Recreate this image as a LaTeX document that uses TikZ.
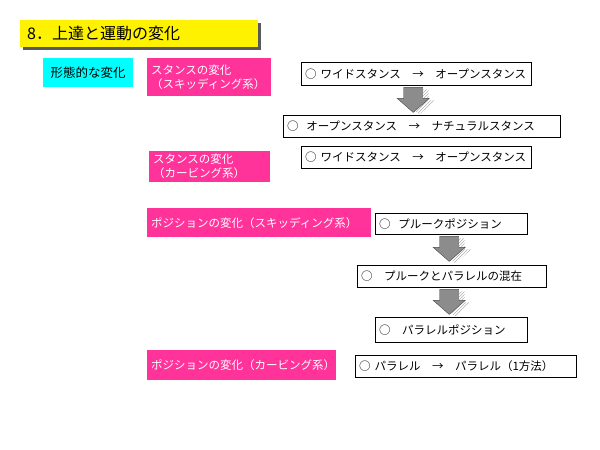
\documentclass[tikz,border=0pt]{standalone}
\usepackage{fontspec}
\setmainfont{Noto Sans CJK JP}
\usetikzlibrary{patterns}
\definecolor{hotpink}{RGB}{255,51,153}
\definecolor{aqua}{RGB}{0,255,255}

\begin{document}
\begin{tikzpicture}[x=1pt,y=-1pt,
  stepbox/.style={draw=black, fill=white, anchor=north west, align=left, inner xsep=4pt, inner ysep=0pt, font=\fontsize{11.5}{14}\selectfont},
  pinkbox/.style={fill=hotpink, text=white, anchor=north west, align=left, inner xsep=4pt, inner ysep=0pt, font=\fontsize{11.5}{14}\selectfont}]
  \useasboundingbox[fill=white] (0,0) rectangle (600,450);

  % title
  \fill[black!65] (23,23) rectangle (261,50);
  \node[fill=yellow, anchor=north west, text width=224pt, minimum height=27pt, inner xsep=7pt, inner ysep=0pt, font=\fontsize{16}{19}\selectfont] (title) at (20,20) {8．上達と運動の変化};

  \node[fill=aqua, anchor=north west, minimum width=90pt, minimum height=29pt, inner sep=0pt, font=\fontsize{12.5}{15}\selectfont] (form) at (43,58) {形態的な変化};

  % stance
  \node[pinkbox, text width=116pt, minimum height=38pt] (stanceS) at (147,58) {スタンスの変化\\（スキッディング系）};
  \node[stepbox, text width=222pt, minimum height=23pt] (stA) at (301,62) {○ ワイドスタンス　→　オープンスタンス};
  \node[stepbox, text width=269pt, minimum height=22pt] (stB) at (283,115) {○\ \ オープンスタンス　→　ナチュラルスタンス};
  \node[pinkbox, text width=113pt, minimum height=31pt] (stanceC) at (149,151) {スタンスの変化\\（カービング系）};
  \node[stepbox, text width=222pt, minimum height=22pt] (stC) at (301,146) {○ ワイドスタンス　→　オープンスタンス};

  % position
  \node[pinkbox, text width=216pt, minimum height=29pt] (posS) at (147,208) {ポジションの変化（スキッディング系）};
  \node[stepbox, text width=144pt, minimum height=21pt] (posA) at (375,213) {○\ \ プルークポジション};
  \node[stepbox, text width=181pt, minimum height=22pt] (posB) at (357,265) {○　プルークとパラレルの混在};
  \node[stepbox, text width=144pt, minimum height=25pt] (posC) at (375,317) {○　パラレルポジション};
  \node[pinkbox, text width=181pt, minimum height=30pt] (posCv) at (147,350) {ポジションの変化（カービング系）};
  \node[stepbox, text width=213pt, minimum height=22pt] (posD) at (355,355) {○ パラレル　→　パラレル（1方法）};

  % block arrows
  \foreach \from/\dx in {stA/-3, posA/-2, posB/-2.5} {
    \begin{scope}[shift={(\from.south)}, xshift=\dx pt]
      \fill[pattern=north east lines, pattern color=black!30] (-3.5,4) -- (15.5,4) -- (15.5,15) -- (22,15) -- (6,29) -- (-10,15) -- (-3.5,15) -- cycle;
      \filldraw[fill=black!45, draw=black!70] (-9.5,2) -- (9.5,2) -- (9.5,13) -- (16,13) -- (0,27) -- (-16,13) -- (-9.5,13) -- cycle;
    \end{scope}
  }
\end{tikzpicture}
\end{document}
